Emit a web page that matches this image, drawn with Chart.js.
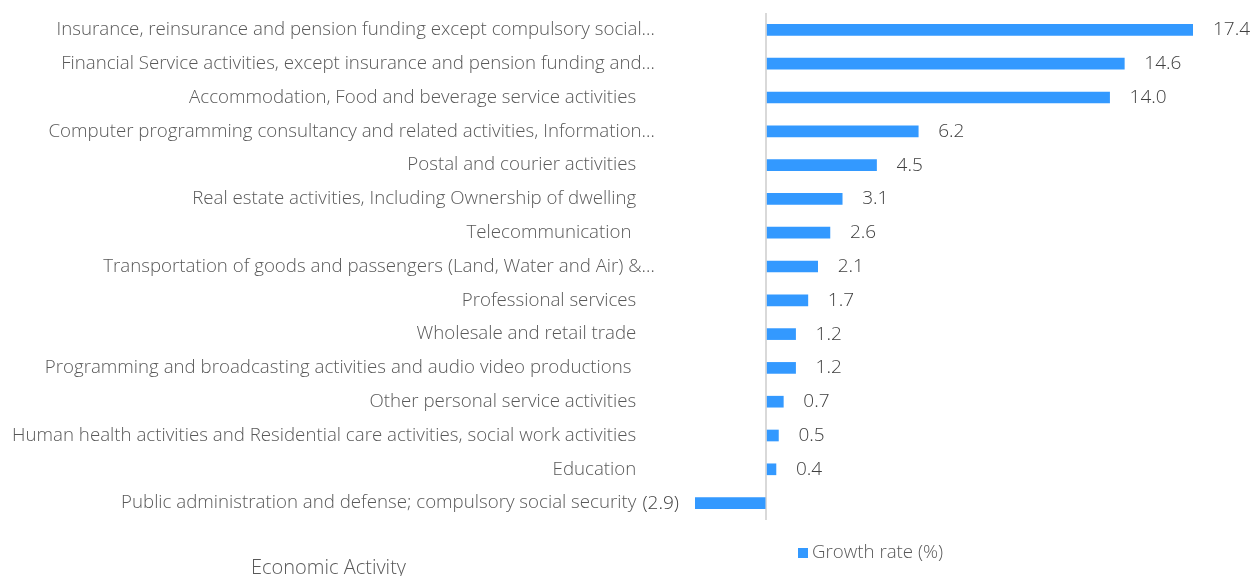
<!DOCTYPE html>
<html lang="en">
<head>
<meta charset="UTF-8">
<title>Growth rate by economic activity</title>
<script src="https://cdn.jsdelivr.net/npm/chart.js"></script>
<style>
  html, body { margin: 0; padding: 0; background: #fff; }
  #wrap { width: 1253px; height: 576px; position: relative; }
</style>
</head>
<body>
<div id="wrap"><canvas id="growthChart"></canvas></div>
<script>
// em space keeps the full-length labels a little short of the axis, like the truncated ones
const categories = [
  'Insurance, reinsurance and pension funding except compulsory social\u2026',
  'Financial Service activities, except insurance and pension funding and\u2026',
  'Accommodation, Food and beverage service activities\u2003',
  'Computer programming consultancy and related activities, Information\u2026',
  'Postal and courier activities\u2003',
  'Real estate activities, Including Ownership of dwelling\u2003',
  'Telecommunication \u2003',
  'Transportation of goods and passengers (Land, Water and Air) &\u2026',
  'Professional services\u2003',
  'Wholesale and retail trade\u2003',
  'Programming and broadcasting activities and audio video productions \u2003',
  'Other personal service activities\u2003',
  'Human health activities and Residential care activities, social work activities\u2003',
  'Education\u2003',
  'Public administration and defense; compulsory social security\u2003'
];
const growthRate = [17.4, 14.6, 14.0, 6.2, 4.5, 3.1, 2.6, 2.1, 1.7, 1.2, 1.2, 0.7, 0.5, 0.4, -2.9];
const seriesName = 'Growth rate (%)';
const axisName = 'Economic Activity';

const FONT = '"Open Sans", Lato, sans-serif';
const BLUE = '#3399ff';

// numbers next to each bar, negatives in brackets on the left side
const valueLabels = {
  id: 'valueLabels',
  afterDatasetsDraw(chart) {
    const ctx = chart.ctx;
    const meta = chart.getDatasetMeta(0);
    ctx.save();
    ctx.font = '300 19px ' + FONT;
    ctx.fillStyle = '#404040';
    ctx.textBaseline = 'middle';
    meta.data.forEach((bar, i) => {
      const v = growthRate[i];
      if (v < 0) {
        ctx.textAlign = 'right';
        ctx.fillText('(' + Math.abs(v).toFixed(1) + ')', bar.x - 16, bar.y);
      } else {
        ctx.textAlign = 'left';
        ctx.fillText(v.toFixed(1), bar.x + 20, bar.y);
      }
    });
    ctx.restore();
  }
};

// legend swatch + axis caption under the plot
const bottomText = {
  id: 'bottomText',
  afterDraw(chart) {
    const ctx = chart.ctx;
    ctx.save();
    ctx.textBaseline = 'middle';
    ctx.textAlign = 'left';
    ctx.fillStyle = BLUE;
    ctx.fillRect(798, 548, 10, 10);
    ctx.fillStyle = '#595959';
    ctx.font = '300 18.7px ' + FONT;
    ctx.fillText(seriesName, 812, 553);
    ctx.font = '300 20px ' + FONT;
    ctx.fillText(axisName, 251, 568);
    ctx.restore();
  }
};

new Chart(document.getElementById('growthChart'), {
  type: 'bar',
  data: {
    labels: categories,
    datasets: [{
      label: seriesName,
      data: growthRate,
      backgroundColor: BLUE,
      borderWidth: 0,
      barThickness: 11
    }]
  },
  options: {
    indexAxis: 'y',
    responsive: true,
    maintainAspectRatio: false,
    animation: false,
    layout: { padding: { top: 13, right: 60, bottom: 56, left: 0 } },
    plugins: {
      legend: { display: false },
      tooltip: { enabled: false }
    },
    scales: {
      x: {
        min: -2.9,
        max: 17.4,
        afterBuildTicks: (scale) => { scale.ticks = [{ value: 0 }]; },
        ticks: { display: false },
        border: { display: false },
        grid: { color: '#d9d9d9', lineWidth: 2, drawTicks: false }
      },
      y: {
        // fixed label column; tick padding would otherwise also pad top/bottom
        afterFit: (scale) => {
          scale.width = 695;
          scale.paddingTop = 0;
          scale.paddingBottom = 0;
        },
        border: { display: false },
        grid: { display: false, drawTicks: false },
        ticks: {
          padding: 40,
          color: '#595959',
          font: { family: FONT, size: 18.7, weight: '300' }
        }
      }
    }
  },
  plugins: [valueLabels, bottomText]
});
</script>
</body>
</html>
